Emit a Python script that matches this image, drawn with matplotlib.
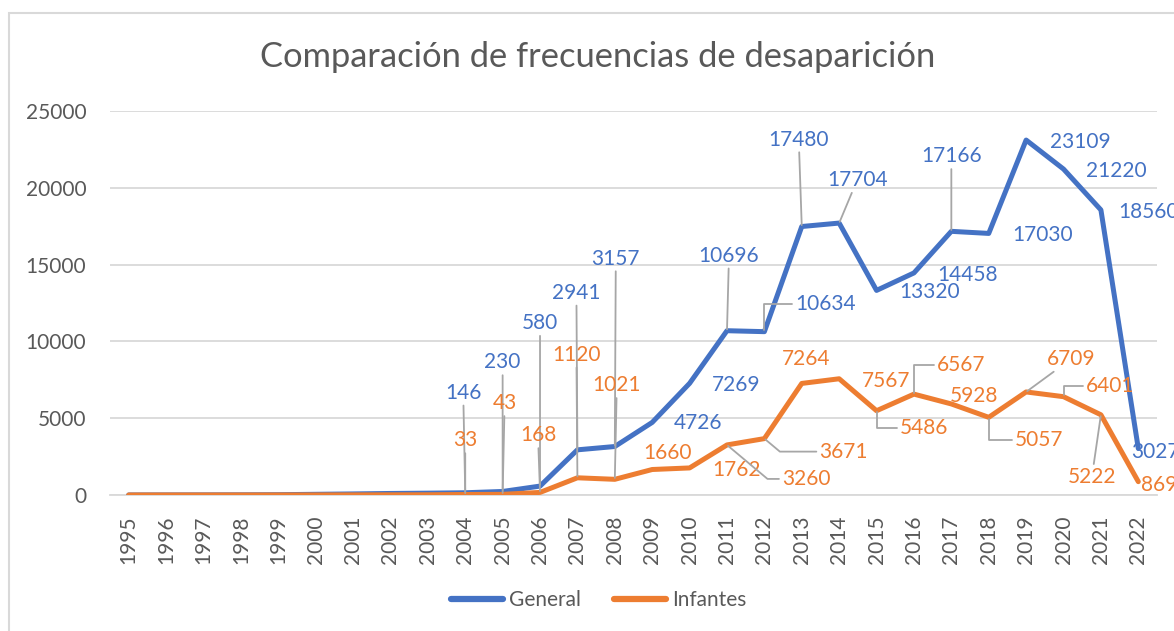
import matplotlib
matplotlib.use("Agg")
import matplotlib.pyplot as plt
from matplotlib.patches import Rectangle

years = list(range(1995, 2023))
general = [2, 5, 8, 12, 20, 45, 70, 100, 120, 146, 230, 580, 2941, 3157, 4726, 7269,
           10696, 10634, 17480, 17704, 13320, 14458, 17166, 17030, 23109, 21220, 18560, 3027]
infantes = [0, 1, 1, 2, 3, 5, 8, 12, 15, 33, 43, 168, 1120, 1021, 1660, 1762,
            3260, 3671, 7264, 7567, 5486, 6567, 5928, 5057, 6709, 6401, 5222, 869]
labeled_from = 2004

BLUE = "#4472C4"
ORANGE = "#ED7D31"
GRID = "#D9D9D9"
TXT = "#595959"
LEAD = "#A6A6A6"
FONT = "Lato"
FS = 15

# label offsets in pixels (dx right, dy up) relative to the data point; leader style
gen_off = {
    2004: (-2, 100, "v"), 2005: (0, 129, "v"), 2006: (0, 163, "v"), 2007: (-1, 157, "v"),
    2008: (1, 188, "v"), 2009: (46, -1, None), 2010: (47, -2, None), 2011: (2, 75, "v"),
    2012: (61, 28, "elbow"), 2013: (-3, 87, "v"), 2014: (18, 43, "d"), 2015: (53, -2, None),
    2016: (54, -2, None), 2017: (0, 75, "v"), 2018: (54, -2, None), 2019: (54, -2, None),
    2020: (53, -2, None), 2021: (48, -2, None), 2022: (17, -3, None),
}
inf_off = {
    2004: (0, 54, "v"), 2005: (2, 91, "v"), 2006: (-2, 57, "v"), 2007: (-1, 123, "v"),
    2008: (2, 94, "v"), 2009: (15, 17, None), 2010: (47, -2, None), 2011: (79, -34, "elbowd"),
    2012: (79, -13, "elbowd"), 2013: (4, 24, None), 2014: (47, -2, None), 2015: (47, -17, "elbow"),
    2016: (47, 29, "elbow"), 2017: (23, 8, None), 2018: (50, -23, "elbow"), 2019: (45, 33, "d"),
    2020: (47, 11, "elbow"), 2021: (-9, -62, "d"), 2022: (21, -3, None),
}

plt.rcParams['font.family'] = [FONT, 'DejaVu Sans']

fig = plt.figure(figsize=(11.74, 6.31), dpi=100)
ax = fig.add_axes([110 / 1174, 1 - 495 / 631, 1047 / 1174, (495 - 111) / 631])

x = list(range(len(years)))
ax.plot(x, general, color=BLUE, lw=3.6, solid_capstyle='round', solid_joinstyle='round',
        label="General", zorder=3)
ax.plot(x, infantes, color=ORANGE, lw=3.6, solid_capstyle='round', solid_joinstyle='round',
        label="Infantes", zorder=3)

ax.set_xlim(-0.5, len(years) - 0.5)
ax.set_ylim(0, 25000)
ax.set_yticks(range(0, 25001, 5000))
ax.set_xticks(x)
ax.set_xticklabels([str(y) for y in years], rotation=90, fontsize=FS, color=TXT)
ax.tick_params(axis='y', labelsize=FS, labelcolor=TXT, length=0, pad=17)
ax.tick_params(axis='x', length=0, pad=15)
ax.grid(axis='y', color=GRID, lw=1.3)
ax.set_axisbelow(True)
for s in ['top', 'right', 'left']:
    ax.spines[s].set_visible(False)
ax.spines['bottom'].set_color(GRID)
ax.spines['bottom'].set_linewidth(1.3)


def add_labels(vals, offs, color):
    for i, (yr, v) in enumerate(zip(years, vals)):
        if yr < labeled_from:
            continue
        dx, dy, kind = offs[yr]
        kw = dict(xy=(i, v), xytext=(dx, dy), textcoords='offset pixels',
                  ha='center', va='center', fontsize=FS, color=color, zorder=5,
                  annotation_clip=False)
        if kind == "v" or kind == "d":
            kw['arrowprops'] = dict(arrowstyle='-', color=LEAD, lw=1.3, shrinkA=0, shrinkB=1)
        elif kind == "elbow":
            kw['arrowprops'] = dict(arrowstyle='-', color=LEAD, lw=1.3, shrinkA=0, shrinkB=1,
                                    relpos=(0, 0.5),
                                    connectionstyle="angle,angleA=0,angleB=90,rad=0")
        elif kind == "elbowd":
            kw['arrowprops'] = dict(arrowstyle='-', color=LEAD, lw=1.3, shrinkA=0, shrinkB=1,
                                    relpos=(0, 0.5),
                                    connectionstyle="angle,angleA=0,angleB=-40,rad=0")
        ax.annotate(str(v), **kw)


add_labels(general, gen_off, BLUE)
add_labels(infantes, inf_off, ORANGE)

fig.text(598 / 1174, 1 - 57 / 631, "Comparación de frecuencias de desaparición",
         ha='center', va='center', fontsize=24.8, color=TXT)

leg = ax.legend(loc='center', bbox_to_anchor=(0.51, 1 - 600 / 631), bbox_transform=fig.transFigure,
                ncol=2, frameon=False, fontsize=FS, handlelength=2.5, handletextpad=0.3,
                columnspacing=1.6, labelcolor=TXT)
for line in leg.get_lines():
    line.set_linewidth(4.5)
    line.set_solid_capstyle('round')

fig.patches.append(Rectangle((9 / 1174, -0.1), 1.2, 1.1 - 13 / 631, transform=fig.transFigure,
                             fill=False, edgecolor=GRID, lw=1.5, zorder=0))

fig.savefig("out.png", dpi=100)
